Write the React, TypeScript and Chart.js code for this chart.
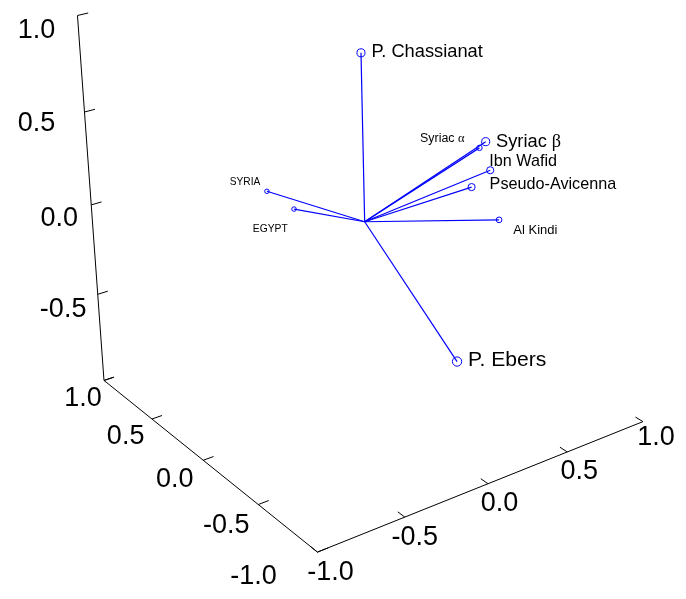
import React, { useEffect, useRef } from "react";
import { Chart, registerables } from "chart.js";

Chart.register(...registerables);

// ---- data (3D loadings: X = horizontal axis, D = depth axis, Z = vertical axis) ----
const names = ["P. Chassianat", "Syriac β", "Syriac α", "Ibn Wafid", "Pseudo-Avicenna", "Al Kindi", "SYRIA", "EGYPT", "P. Ebers"];
const xVals = [-0.217, 0.526, 0.821, 0.677, 0.558, 0.925, -0.393, -0.242, 0.197];
const dVals = [-0.3, -0.3, 0.12, -0.15, -0.15, 0.08, 0.28, 0.27, -0.5];
const zVals = [1.015, 0.392, 0.145, 0.151, 0.091, -0.272, 0.168, 0.036, -0.622];

const axisTicks = [-1, -0.5, 0, 0.5, 1];
const xTickLabels = ["-1.0", "-0.5", "0.0", "0.5", "1.0"];
const dTickLabels = ["-1.0", "-0.5", "0.0", "0.5", "1.0"];
const zTickLabels = ["", "-0.5", "0.0", "0.5", "1.0"];

// ---- layout: camera (perspective) and label placement ----
const W = 686;
const H = 599;
function project(X: number, D: number, Z: number) {
  const u = (X + 1) / 2, v = (1 - D) / 2, t = (Z + 1) / 2;
  const w = 1 + 0.0877 * u - 0.131 * v - 0.073 * t;
  const nx = 100 + 344.4 * u + 175.5 * v - 32.3 * t;
  const ny = 382 - 78.4 * u + 102.0 * v - 372.7 * t;
  return { x: nx / w, y: ny / w };
}
const xLabelOff = [[13, 18], [10, 17.8], [11.6, 17.7], [12, 17.1], [13, 14]];
const dLabelOff = [[-64, 22], [-31.9, 18.5], [-28.4, 16.7], [-26.3, 15.2], [-21, 15.5]];
const zLabelOff = [[0, 0], [-34.6, 12.8], [-32, 11.4], [-48, 9.6], [-41, 13]];
// point label placement: [dx, dy(baseline), align]
const ptLabelPos: [number, number, string][] = [
  [10.4, 3.7, "left"],
  [10.3, 5.6, "left"],
  [-15, -5.7, "right"],
  [-1, -4.4, "left"],
  [18, 2.3, "left"],
  [14.3, 14.4, "left"],
  [-21.9, -6.6, "center"],
  [-23.8, 22.7, "center"],
  [11, 4.6, "left"],
];
const SANS = "'Liberation Sans', Arial, sans-serif";
const SERIF = "'Liberation Serif', 'DejaVu Serif', serif";
const TICK_FONT = 27;
const fontForDepth = (d: number) => 14.1 - 14 * d;

function seg(a: { x: number; y: number }, b: { x: number; y: number }, color: string, width: number) {
  return {
    data: [a, b],
    showLine: true,
    borderColor: color,
    borderWidth: width,
    pointRadius: 0,
    pointHoverRadius: 0,
  };
}

function drawRich(ctx: CanvasRenderingContext2D, text: string, x: number, y: number, size: number, align: string) {
  const runs: { s: string; f: string }[] = [];
  for (const ch of text) {
    const greek = /[\u0370-\u03ff]/.test(ch);
    const f = `${size}px ${greek ? SERIF : SANS}`;
    if (runs.length && runs[runs.length - 1].f === f) runs[runs.length - 1].s += ch;
    else runs.push({ s: ch, f });
  }
  let total = 0;
  const widths = runs.map((r) => {
    ctx.font = r.f;
    const m = ctx.measureText(r.s).width;
    total += m;
    return m;
  });
  let cx = x;
  if (align === "center") cx = x - total / 2;
  else if (align === "right") cx = x - total;
  ctx.textAlign = "left";
  ctx.textBaseline = "alphabetic";
  runs.forEach((r, i) => {
    ctx.font = r.f;
    ctx.fillText(r.s, cx, y);
    cx += widths[i];
  });
}

export default function App() {
  const ref = useRef<HTMLCanvasElement | null>(null);
  useEffect(() => {
    document.body.style.margin = "0";
    const canvas = ref.current;
    if (!canvas) return;

    const datasets: any[] = [];
    // axes
    datasets.push(seg(project(-1, 1, -1), project(-1, 1, 1), "#000", 1));
    datasets.push(seg(project(-1, 1, -1), project(-1, -1, -1), "#000", 1));
    datasets.push(seg(project(-1, -1, -1), project(1, -1, -1), "#000", 1));
    axisTicks.forEach((v) => {
      datasets.push(seg(project(-1, 1, v), project(-0.94, 1, v), "#000", 1));
      datasets.push(seg(project(-1, v, -1), project(-0.94, v, -1), "#000", 1));
      datasets.push(seg(project(v, -1, -1), project(v, -0.944, -1), "#000", 1));
    });
    // vectors
    const origin = project(0, 0, 0);
    names.forEach((_, i) => {
      const p = project(xVals[i], dVals[i], zVals[i]);
      const r = 0.22 * fontForDepth(dVals[i]);
      datasets.push({
        data: [origin, p],
        showLine: true,
        borderColor: "#0000ff",
        borderWidth: 1.2,
        pointRadius: [0, r],
        pointHoverRadius: [0, r],
        pointBorderColor: "#0000ff",
        pointBackgroundColor: "rgba(0,0,0,0)",
        pointBorderWidth: 1,
      });
    });

    const labelPlugin = {
      id: "labels3d",
      afterDatasetsDraw(chart: any) {
        const ctx: CanvasRenderingContext2D = chart.ctx;
        const sx = chart.scales.x, sy = chart.scales.y;
        const px = (p: { x: number; y: number }) => ({ x: sx.getPixelForValue(p.x), y: sy.getPixelForValue(p.y) });
        ctx.save();
        ctx.fillStyle = "#000";
        const tickLabel = (p: { x: number; y: number }, off: number[], txt: string) => {
          if (!txt) return;
          const q = px(p);
          drawRich(ctx, txt, q.x + off[0], q.y + off[1] + 0.358 * TICK_FONT, TICK_FONT, "center");
        };
        axisTicks.forEach((v, i) => {
          tickLabel(project(-1, 1, v), zLabelOff[i], zTickLabels[i]);
          tickLabel(project(-1, v, -1), dLabelOff[i], dTickLabels[i]);
          tickLabel(project(v, -1, -1), xLabelOff[i], xTickLabels[i]);
        });
        names.forEach((n, i) => {
          const q = px(project(xVals[i], dVals[i], zVals[i]));
          const [dx, dy, al] = ptLabelPos[i];
          drawRich(ctx, n, q.x + dx, q.y + dy, fontForDepth(dVals[i]), al);
        });
        ctx.restore();
      },
    };

    const chart = new Chart(canvas, {
      type: "scatter",
      data: { datasets },
      options: {
        animation: false,
        responsive: false,
        events: [],
        layout: { padding: 0 },
        plugins: { legend: { display: false }, tooltip: { enabled: false } },
        scales: {
          x: { type: "linear", min: 0, max: W, display: false },
          y: { type: "linear", min: 0, max: H, reverse: true, display: false },
        },
      },
      plugins: [labelPlugin],
    } as any);
    return () => chart.destroy();
  }, []);

  return (
    <div style={{ width: W, height: H, background: "#fff" }}>
      <canvas ref={ref} width={W} height={H} style={{ display: "block" }} />
    </div>
  );
}
